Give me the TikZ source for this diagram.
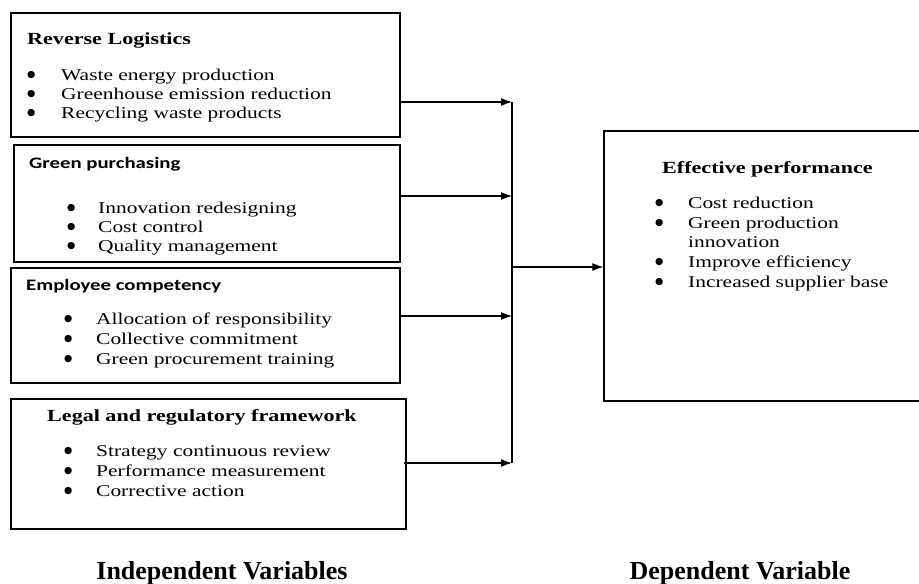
\documentclass[tikz,border=0pt]{standalone}
\usepackage{fontspec}
\setmainfont{Liberation Serif}
\newfontfamily\wideserif{Liberation Serif}[FakeStretch=1.3]
\newfontfamily\widesans{Carlito}[FakeStretch=1.3]
\newfontfamily\dotfont{DejaVu Sans}
\usetikzlibrary{arrows.meta}

\tikzset{
  varbox/.style={draw, line width=1.3pt, inner sep=0pt},
  boxtitle/.style={anchor=base west, inner sep=0pt, font=\wideserif\fontsize{17}{20}\selectfont\bfseries},
  sanstitle/.style={anchor=base west, inner sep=0pt, font=\widesans\fontsize{16}{19}\selectfont\bfseries},
  bulletitem/.style={anchor=base west, inner sep=0pt, font=\wideserif\fontsize{16.5}{19}\selectfont},
  footlabel/.style={anchor=base, inner sep=0pt, font=\fontsize{26}{30}\selectfont\bfseries},
  feed/.style={line width=1.2pt, -{Latex[length=11pt,width=8pt]}},
}
\newcommand{\bitem}[2]{\makebox[#1][l]{\raisebox{2.3pt}{\dotfont\fontsize{9.5}{9.5}\selectfont ●}}#2}

\begin{document}
\begin{tikzpicture}[x=1pt, y=-1pt]
\useasboundingbox (0,0) rectangle (919,584);
\clip (0,0) rectangle (919,584);

% independent variables
\node[varbox, minimum width=389pt, minimum height=124pt] (logistics) at (205.5,75) {};
\node[boxtitle] (logisticstitle) at (27,44) {Reverse Logistics};
\node[bulletitem] (waste) at (27,80) {\bitem{34pt}{Waste energy production}};
\node[bulletitem] (greenhouse) at (27,99) {\bitem{34pt}{Greenhouse emission reduction}};
\node[bulletitem] (recycling) at (27,118) {\bitem{34pt}{Recycling waste products}};

\node[varbox, minimum width=386pt, minimum height=117pt] (purchasing) at (207,203.5) {};
\node[sanstitle] (purchasingtitle) at (29,168) {Green purchasing};
\node[bulletitem] (innovation) at (67,213) {\bitem{31pt}{Innovation redesigning}};
\node[bulletitem] (costcontrol) at (67,232) {\bitem{31pt}{Cost control}};
\node[bulletitem] (quality) at (67,251) {\bitem{31pt}{Quality management}};

\node[varbox, minimum width=389pt, minimum height=115pt] (competency) at (205.5,325.5) {};
\node[sanstitle] (competencytitle) at (26,290) {Employee competency};
\node[bulletitem] (allocation) at (64,324) {\bitem{32pt}{Allocation of responsibility}};
\node[bulletitem] (commitment) at (64,344) {\bitem{32pt}{Collective commitment}};
\node[bulletitem] (training) at (64,364) {\bitem{32pt}{Green procurement training}};

\node[varbox, minimum width=395pt, minimum height=130pt] (legal) at (208.5,464) {};
\node[boxtitle] (legaltitle) at (47,421) {Legal and regulatory framework};
\node[bulletitem] (review) at (64,456) {\bitem{32pt}{Strategy continuous review}};
\node[bulletitem] (measurement) at (64,476) {\bitem{32pt}{Performance measurement}};
\node[bulletitem] (corrective) at (64,496) {\bitem{32pt}{Corrective action}};

% dependent variable
\node[varbox, minimum width=326pt, minimum height=270pt] (performance) at (767,266) {};
\node[boxtitle] (performancetitle) at (662,173) {Effective performance};
\node[bulletitem] (costreduction) at (655,208) {\bitem{33pt}{Cost reduction}};
\node[bulletitem] (production) at (655,228) {\bitem{33pt}{Green production}};
\node[bulletitem] (productionb) at (688,247) {innovation};
\node[bulletitem] (efficiency) at (655,267) {\bitem{33pt}{Improve efficiency}};
\node[bulletitem] (supplier) at (655,287) {\bitem{33pt}{Increased supplier base}};

% collecting line
\coordinate (bustop) at (512,102);
\coordinate (bustwo) at (512,196);
\coordinate (busmid) at (512,267);
\coordinate (busthree) at (512,316);
\coordinate (busbottom) at (512,463);
\draw[line width=1.2pt] (bustop) -- (busbottom);
\draw[feed] (logistics.east |- bustop) -- (bustop);
\draw[feed] (purchasing.east |- bustwo) -- (bustwo);
\draw[feed] (competency.east |- busthree) -- (busthree);
\draw[feed] ([xshift=-3pt]legal.east |- busbottom) -- (busbottom);
\draw[feed] (busmid) -- (performance.west |- busmid);

\node[footlabel] (independent) at (222,579) {Independent Variables};
\node[footlabel] (dependent) at (740,579) {Dependent Variable};
\end{tikzpicture}
\end{document}
